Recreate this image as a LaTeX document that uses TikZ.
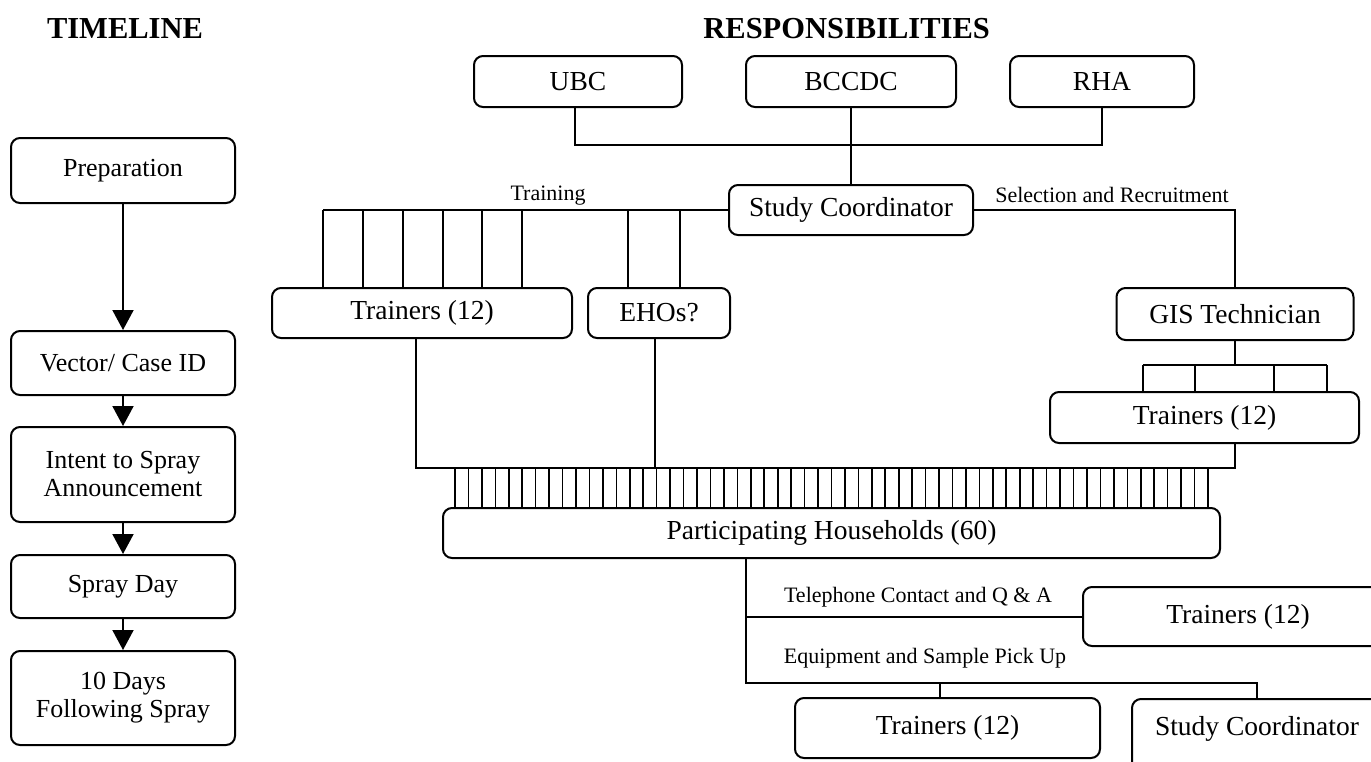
\documentclass[tikz,border=0pt]{standalone}
\usepackage{fontspec}
\setmainfont{Liberation Serif}
\usetikzlibrary{arrows.meta}

\begin{document}
\begin{tikzpicture}
			[x=0.5pt,y=-0.5pt,
			%Styles
			box/.style={draw,line width=1pt,rounded corners=4.5pt,align=center,inner sep=0pt,font={\fontsize{13.75}{16}\selectfont}},
			timebox/.style={box,minimum width=112pt,font={\fontsize{13}{14}\selectfont}},
			link/.style={line width=1pt},
			tooth/.style={line width=0.8pt},
			flow/.style={link,-{Triangle[width=10.5pt,length=10pt]}},
			tag/.style={inner sep=0pt,font={\fontsize{11}{13}\selectfont}},
			heading/.style={inner sep=0pt,font={\fontsize{15.25}{18}\selectfont\bfseries}}
			]
			
			\useasboundingbox (0,0) rectangle (1371,761);
			\clip (0,0) rectangle (1371,761);
			
			%Titles
			\node[heading] (timehead) at (125,29) {TIMELINE};
			\node[heading,anchor=west] (resphead) at (703,29) {RESPONSIBILITIES};
			
			%Timeline
			\node[timebox,minimum height=32.5pt] (prep) at (123,170.5) {Preparation};
			\node[timebox,minimum height=32pt] (vector) at (123,363) {Vector/ Case ID};
			\node[timebox,minimum height=47.5pt] (intent) at (123,474.5) {Intent to Spray\\Announcement};
			\node[timebox,minimum height=31.5pt] (sprayday) at (123,586.5) {Spray Day};
			\node[timebox,minimum height=47pt] (tendays) at (123,698) {10 Days\\Following Spray};
			
			\foreach \a/\b in {prep/vector,vector/intent,intent/sprayday,sprayday/tendays}
				\draw[flow] (\a) -- (\b);
			
			%Responsibilities
			\node[box,minimum width=104pt,minimum height=25.5pt] (ubc) at (578,81.5) {UBC};
			\node[box,minimum width=105pt,minimum height=25.5pt] (bccdc) at (851,81.5) {BCCDC};
			\node[box,minimum width=92pt,minimum height=25.5pt] (rha) at (1102,81.5) {RHA};
			\node[box,minimum width=122pt,minimum height=25pt] (coord) at (851,210) {Study Coordinator};
			\node[box,minimum width=150pt,minimum height=25pt] (trainA) at (422,313) {Trainers (12)};
			\node[box,minimum width=71pt,minimum height=25pt] (ehos) at (659,313) {EHOs?};
			\node[box,minimum width=118.5pt,minimum height=26pt] (gis) at (1235,314) {GIS Technician};
			\node[box,minimum width=154.5pt,minimum height=25.5pt] (trainB) at (1204.5,417.5) {Trainers (12)};
			\node[box,minimum width=388.5pt,minimum height=25pt] (house) at (831.5,533) {Participating Households (60)};
			\node[box,minimum width=155pt,minimum height=29.5pt] (trainC) at (1238,616.5) {Trainers (12)};
			\node[box,minimum width=152.5pt,minimum height=30pt] (trainD) at (947.5,728) {Trainers (12)};
			\node[box,minimum width=125pt,minimum height=38pt,text depth=11pt,anchor=north] (coordB) at (1257,698) {Study Coordinator};
			
			\coordinate (topbar) at (0,145);
			\coordinate (gisbar) at (0,365);
			\coordinate (hbar) at (0,468);
			\coordinate (lowbar) at (0,683);
			
			\draw[link] (ubc.south -| 575,0) |- (rha.south |- topbar) -- (rha.south);
			\draw[link] (bccdc) -- (coord);
			
			%Training
			\draw[link] (coord.west) -- (323,210);
			\foreach \x in {323,363,403,443,482,522}
				\draw[link] (\x,210) -- (trainA.north -| \x,0);
			\foreach \x in {628,680}
				\draw[link] (\x,210) -- (ehos.north -| \x,0);
			\node[tag] (traintag) at (548,196) {Training};
			
			%Selection and recruitment
			\draw[link] (coord.east) -| (gis.north);
			\node[tag] (seltag) at (1112,195) {Selection and Recruitment};
			\draw[link] (gis.south) -- (gis.south |- gisbar);
			\draw[link] (1143,365) -- (1327,365);
			\foreach \x in {1143,1195,1274,1327}
				\draw[link] (\x,365) -- (trainB.north -| \x,0);
			
			%Households
			\draw[link] (trainA.south -| 416,0) |- (1235,468) -- (trainB.south -| 1235,0);
			\draw[link] (ehos.south -| 655,0) -- (655,468);
			\foreach \i [evaluate=\i as \xx using 455+\i*13.446] in {0,...,56}
				\draw[tooth] (\xx,468) -- (house.north -| \xx,0);
			
			%Follow up
			\draw[link] (house.south -| 746,0) |- (coordB.north |- lowbar) -- (coordB.north);
			\draw[link] (trainD.north -| 940,0) -- (940,683);
			\draw[link] (trainC.west -| 746,0) -- (trainC.west);
			\node[tag] (phonetag) at (918,597) {Telephone Contact and Q \& A};
			\node[tag] (pickuptag) at (925,658) {Equipment and Sample Pick Up};
		\end{tikzpicture}
\end{document}
